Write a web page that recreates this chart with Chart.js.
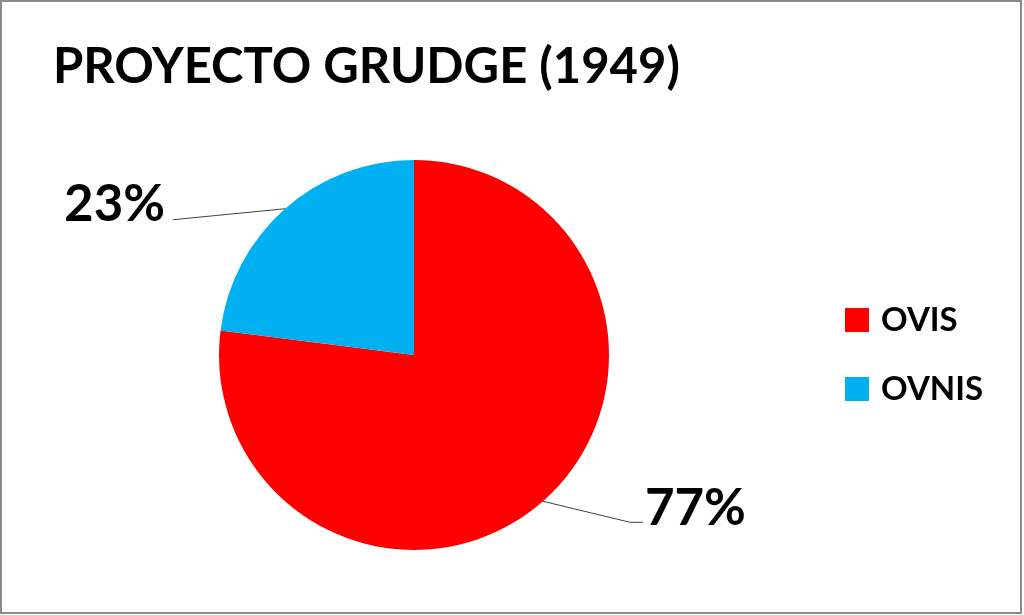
<!DOCTYPE html>
<html>
<head>
<meta charset="utf-8">
<script src="https://cdn.jsdelivr.net/npm/chart.js@4.4.0/dist/chart.umd.min.js"></script>
<style>
  body { margin: 0; background: #fff; }
  #wrap { position: relative; width: 1024px; height: 615px; }
  #frame { position: absolute; left: 0; top: 0; width: 1022px; height: 614px; box-sizing: border-box; border: 2px solid #8a8a8a; pointer-events: none; }
</style>
</head>
<body>
<div id="wrap">
  <canvas id="chart" width="1024" height="615"></canvas>
  <div id="frame"></div>
</div>
<script>
// Chart data
const titleText = 'PROYECTO GRUDGE (1949)';
const categories = ['OVIS', 'OVNIS'];
const values = [77, 23];
const colors = ['#ff0000', '#00b0f0'];

const FONT = 'Lato, "Open Sans", sans-serif';

// Title, leader lines, percentage labels and legend
const decorPlugin = {
  id: 'decor',
  afterDraw(chart) {
    const ctx = chart.ctx;
    const arcs = chart.getDatasetMeta(0).data;
    const total = values.reduce((a, b) => a + b, 0);

    ctx.save();
    ctx.fillStyle = '#000';
    ctx.textBaseline = 'alphabetic';

    // title
    ctx.font = 'bold 49px ' + FONT;
    ctx.textAlign = 'left';
    ctx.fillText(titleText, 53, 83);

    // leader lines + labels
    arcs.forEach((arc, i) => {
      const mid = (arc.startAngle + arc.endAngle) / 2;
      const ex = arc.x + Math.cos(mid) * arc.outerRadius;
      const ey = arc.y + Math.sin(mid) * arc.outerRadius;
      const pct = Math.round(values[i] / total * 100) + '%';
      ctx.strokeStyle = '#404040';
      ctx.lineWidth = 1;
      ctx.beginPath();
      ctx.font = 'bold 51px ' + FONT;
      if (Math.cos(mid) < 0) {
        ctx.moveTo(ex, ey);
        ctx.lineTo(ex - 112, ey + 11);
        ctx.stroke();
        ctx.textAlign = 'right';
        ctx.fillText(pct, ex - 120, ey + 12);
      } else {
        ctx.moveTo(ex, ey);
        ctx.lineTo(ex + 87, ey + 21);
        ctx.lineTo(ex + 100, ey + 21);
        ctx.stroke();
        ctx.textAlign = 'left';
        ctx.fillText(pct, ex + 102, ey + 24);
      }
    });

    // legend
    ctx.font = 'bold 33px ' + FONT;
    ctx.textAlign = 'left';
    categories.forEach((c, i) => {
      const y = 308 + i * 69;
      ctx.fillStyle = colors[i];
      ctx.fillRect(845, y, 24, 24);
      ctx.fillStyle = '#000';
      ctx.fillText(c, 881, y + 23);
    });
    ctx.restore();
  }
};

new Chart(document.getElementById('chart'), {
  type: 'pie',
  data: {
    labels: categories,
    datasets: [{
      data: values,
      backgroundColor: colors,
      borderWidth: 0
    }]
  },
  options: {
    responsive: false,
    animation: false,
    layout: { padding: { left: 219, right: 415, top: 160, bottom: 65 } },
    plugins: {
      legend: { display: false },
      tooltip: { enabled: false }
    }
  },
  plugins: [decorPlugin]
});
</script>
</body>
</html>
